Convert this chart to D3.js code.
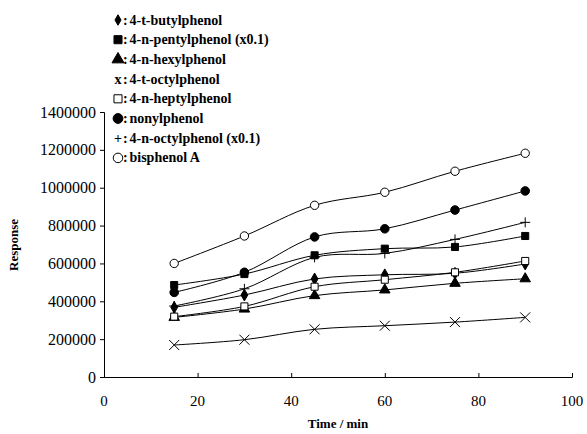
<!DOCTYPE html>
<html><head><meta charset="utf-8">
<script src="https://cdn.jsdelivr.net/npm/d3@7"></script>
<style>
body{margin:0;background:#fff;}
svg{display:block;}
text{font-family:"Liberation Serif","DejaVu Serif",serif;fill:#000;}
</style></head>
<body><svg id="c" width="587" height="434"></svg>
<script>
const times = [15, 30, 45, 60, 75, 90];
const xTicks = [0, 20, 40, 60, 80, 100];
const yTicks = [0, 200000, 400000, 600000, 800000, 1000000, 1200000, 1400000];

const seriesNames = ["4-t-butylphenol", "4-n-pentylphenol (x0.1)", "4-n-hexylphenol", "4-t-octylphenol",
  "4-n-heptylphenol", "nonylphenol", "4-n-octylphenol (x0.1)", "bisphenol A"];
const seriesMarkers = ["diamond", "square", "triangle", "x", "opensquare", "circle", "plus", "opencircle"];
const butyl = [368000, 433000, 518000, 540000, 548000, 597000];
const pentyl = [486000, 544000, 643000, 678000, 687000, 745000];
const hexyl = [315000, 359000, 430000, 460000, 495000, 519000];
const tOctyl = [169000, 197000, 252000, 271000, 290000, 315000];
const heptyl = [319000, 373000, 477000, 514000, 553000, 613000];
const nonyl = [447000, 553000, 740000, 783000, 882000, 983000];
const nOctyl = [375000, 466000, 632000, 653000, 727000, 817000];
const bisA = [600000, 745000, 907000, 976000, 1087000, 1182000];
const seriesValues = [butyl, pentyl, hexyl, tOctyl, heptyl, nonyl, nOctyl, bisA];

const svg = d3.select("#c");
const x = d3.scaleLinear().domain([0, 100]).range([104, 572]);
const y = d3.scaleLinear().domain([0, 1400000]).range([377, 112]);

// axes
const gx = svg.append("g").attr("transform", `translate(0,${y(0)})`)
  .call(d3.axisTop(x).tickValues(xTicks).tickSize(4).tickFormat(""));
gx.select(".domain").attr("stroke", "#000");
gx.selectAll(".tick line").attr("stroke", "#000");
svg.append("g").selectAll("text").data(xTicks).join("text")
  .attr("x", d => x(d)).attr("y", y(0) + 29).attr("text-anchor", "middle")
  .style("font-size", "15px").text(d => d);

const gy = svg.append("g").attr("transform", `translate(${x(0)},0)`)
  .call(d3.axisLeft(y).tickValues(yTicks).tickSize(4).tickPadding(4).tickFormat(d3.format("d")));
gy.select(".domain").attr("stroke", "#000");
gy.selectAll(".tick line").attr("stroke", "#000");
gy.selectAll(".tick text").style("font-size", "16px").attr("font-family", "Liberation Serif");

svg.append("text").attr("transform", `translate(18,245) rotate(-90)`).attr("text-anchor", "middle")
  .style("font-size", "13px").style("font-weight", "bold").text("Response");
svg.append("text").attr("x", x(50)).attr("y", 428).attr("text-anchor", "middle")
  .style("font-size", "13px").style("font-weight", "bold").text("Time / min");

// lines
const line = d3.line().x((d, i) => x(times[i])).y(d => y(d)).curve(d3.curveCardinal.tension(0));
function drawMarker(g, type, cx, cy, s) {
  const sym = {diamond: d3.symbolDiamond, square: d3.symbolSquare, triangle: d3.symbolTriangle,
    opensquare: d3.symbolSquare, circle: d3.symbolCircle, opencircle: d3.symbolCircle};
  const size = {diamond: 40 * s, square: 50 * s, triangle: 48 * s, opensquare: 50 * s, circle: 58 * s, opencircle: 55 * s};
  if (type === "x" || type === "plus") {
    const r = 5 * s;
    const p = type === "x" ? `M${cx - r},${cy - r}L${cx + r},${cy + r}M${cx - r},${cy + r}L${cx + r},${cy - r}`
      : `M${cx - r},${cy}L${cx + r},${cy}M${cx},${cy - r}L${cx},${cy + r}`;
    g.append("path").attr("d", p).attr("stroke", "#000").attr("stroke-width", 1).attr("fill", "none");
  } else {
    const open = type.startsWith("open");
    g.append("path").attr("d", d3.symbol().type(sym[type]).size(size[type])())
      .attr("transform", `translate(${cx},${cy})`)
      .attr("fill", open ? "#fff" : "#000").attr("stroke", "#000").attr("stroke-width", 1);
  }
}
seriesValues.forEach((vals, si) => {
  svg.append("path").attr("d", line(vals)).attr("fill", "none").attr("stroke", "#000").attr("stroke-width", 1);
});
seriesValues.forEach((vals, si) => {
  const g = svg.append("g");
  vals.forEach((v, i) => drawMarker(g, seriesMarkers[si], x(times[i]), y(v), 1));
});

// legend
const lg = svg.append("g");
seriesNames.forEach((name, i) => {
  const cy = 20 + i * 19.7;
  const m = seriesMarkers[i];
  if (m === "x" || m === "plus") {
    lg.append("text").attr("x", 118).attr("y", cy + 4.5).attr("text-anchor", "middle")
      .style("font-size", "14px").style("font-weight", "bold").text(m === "x" ? "x" : "+");
  } else {
    drawMarker(lg, m, 118, cy, m === "diamond" ? 0.8 : 1.3);
  }
  lg.append("text").attr("x", 123).attr("y", cy + 4.5)
    .style("font-size", "14px").style("font-weight", "bold").text(":");
  lg.append("text").attr("x", 129.5).attr("y", cy + 4.5)
    .style("font-size", "14px").style("font-weight", "bold").text(name);
});
</script></body></html>
